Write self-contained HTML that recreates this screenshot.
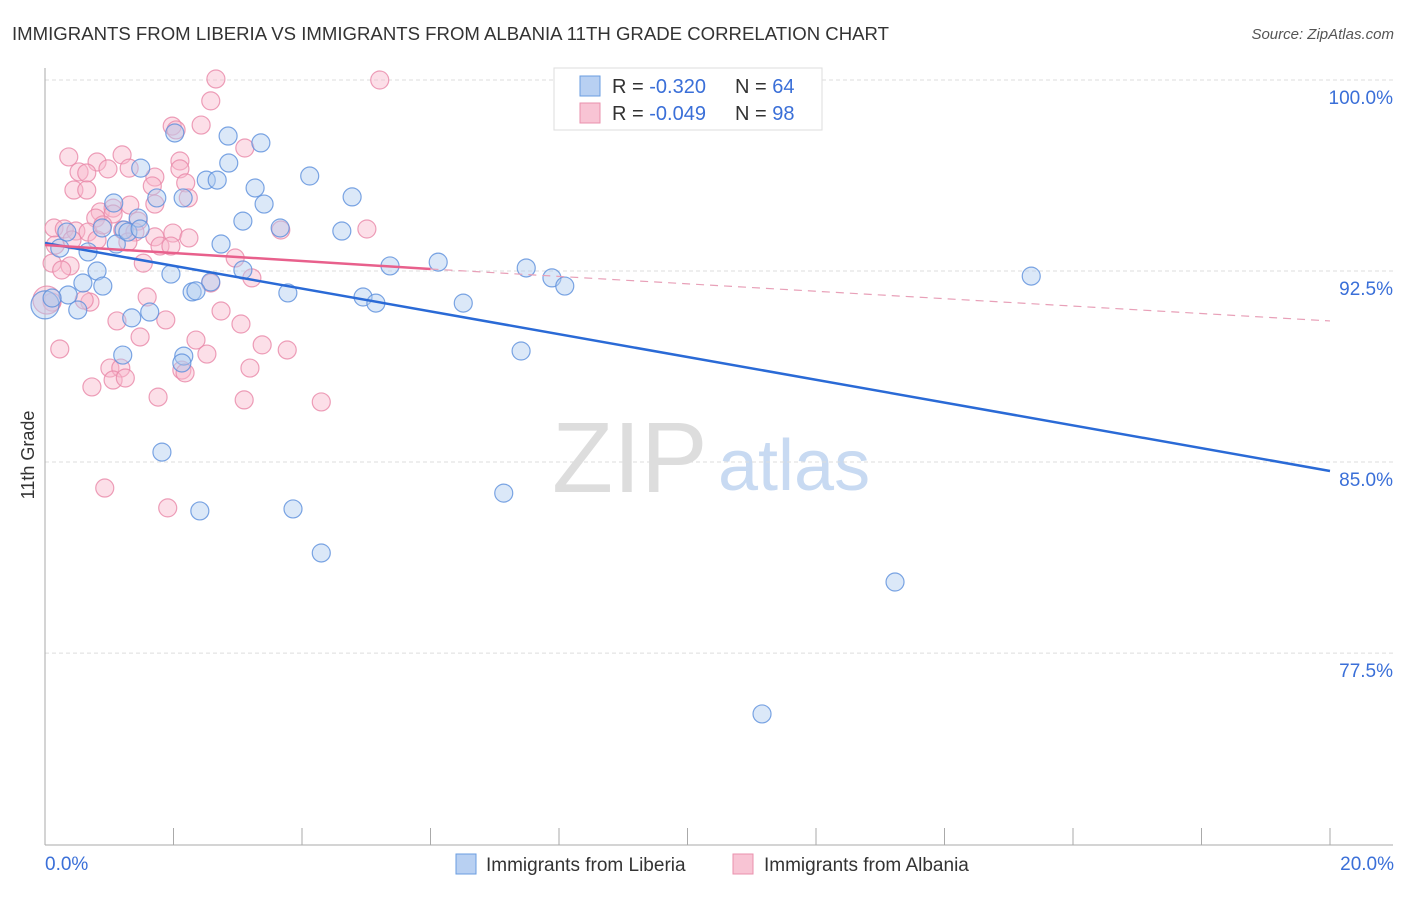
<!DOCTYPE html>
<html><head><meta charset="utf-8"><style>
body{margin:0;background:#fff;font-family:"Liberation Sans",sans-serif}
svg text{font-family:"Liberation Sans",sans-serif}
</style></head><body>
<svg id="c" width="1406" height="892">
<text x="12" y="40" font-size="18" fill="#333" textLength="877" lengthAdjust="spacingAndGlyphs">IMMIGRANTS FROM LIBERIA VS IMMIGRANTS FROM ALBANIA 11TH GRADE CORRELATION CHART</text>
<text x="1394" y="39" font-size="15" fill="#555" font-style="italic" text-anchor="end">Source: ZipAtlas.com</text>
<g>
<text x="552" y="492" font-size="100" fill="#ddd" font-family="Liberation Serif,serif">ZIP</text>
<text x="718" y="490" font-size="72" fill="#c8daf2">atlas</text>
</g>
<g id="grid"></g><g id="axes"></g><g id="pts"></g><g id="lines"></g>
<text transform="translate(34,455) rotate(-90)" font-size="18" fill="#333" text-anchor="middle">11th Grade</text>
<text x="45" y="870" font-size="19" fill="#3a6fd8">0.0%</text>
<text x="1394" y="870" font-size="19" fill="#3a6fd8" text-anchor="end">20.0%</text>
<g>
<rect x="554" y="68" width="268" height="62" fill="#fff" stroke="#ddd"/>
<rect x="580" y="76" width="20" height="20" fill="#b8d0f2" stroke="#6a9de0"/>
<rect x="580" y="103" width="20" height="20" fill="#f8c4d4" stroke="#ea90ad"/>
<text x="612" y="93" font-size="20" fill="#333">R = <tspan fill="#3a6fd8">-0.320</tspan></text>
<text x="735" y="93" font-size="20" fill="#333">N = <tspan fill="#3a6fd8">64</tspan></text>
<text x="612" y="120" font-size="20" fill="#333">R = <tspan fill="#3a6fd8">-0.049</tspan></text>
<text x="735" y="120" font-size="20" fill="#333">N = <tspan fill="#3a6fd8">98</tspan></text>
</g>
<g>
<rect x="456" y="854" width="20" height="20" fill="#b8d0f2" stroke="#6a9de0"/>
<text x="486" y="871" font-size="19" fill="#333">Immigrants from Liberia</text>
<rect x="733" y="854" width="20" height="20" fill="#f8c4d4" stroke="#ea90ad"/>
<text x="764" y="871" font-size="19" fill="#333">Immigrants from Albania</text>
</g>
</svg>
<script>
const yTicks=[100,92.5,85,77.5];
const yTickLabels=["100.0%","92.5%","85.0%","77.5%"];
const xTicks=[0,2,4,6,8,10,12,14,16,18,20];
const blueX=[2.02,2.85,3.36,1.49,2.86,2.51,2.68,4.12,3.27,4.78,1.74,2.15,1.07,3.41,1.45,3.08,3.66,4.62,1.23,0.89,0.23,0.67,1.11,2.74,1.29,6.12,5.37,7.49,7.89,8.09,15.35,3.08,0.81,1.96,2.58,0.59,0.90,2.29,2.35,3.78,4.95,5.15,6.51,0.36,0.51,1.63,1.35,1.21,2.16,2.13,7.41,1.82,7.14,2.41,3.86,4.30,13.23,11.16,9.82,0.0,0.11,1.48,0.34];
const blueY=[97.92,97.80,97.53,96.54,96.74,96.07,96.07,96.23,95.76,95.41,95.37,95.37,95.17,95.13,94.58,94.46,94.19,94.07,94.11,94.19,93.40,93.25,93.56,93.56,94.03,92.85,92.70,92.62,92.23,91.91,92.30,92.54,92.50,92.38,92.07,92.03,91.91,91.68,91.72,91.64,91.48,91.24,91.24,91.56,90.97,90.89,90.66,89.20,89.16,88.89,89.36,85.39,83.78,83.08,83.16,81.43,80.29,75.11,100.0,91.17,91.44,94.15,94.03];
const pinkX=[2.66,5.21,2.58,1.98,2.43,2.04,0.37,0.81,1.20,2.10,0.53,0.65,0.98,1.31,2.10,1.71,0.45,0.65,1.67,2.19,2.23,3.11,0.86,1.06,1.32,0.79,1.06,1.45,1.71,0.14,0.30,0.48,0.67,1.21,1.40,1.71,1.99,2.24,0.16,0.42,0.81,1.29,1.79,1.96,0.90,3.67,5.01,0.11,0.39,0.26,1.53,2.96,3.22,2.58,0.70,0.11,0.61,1.59,1.88,2.74,1.12,3.05,1.48,2.35,3.38,3.77,2.52,0.23,1.01,1.18,2.13,2.18,3.19,1.06,1.25,0.73,1.76,3.10,4.30,0.93,1.91,0.03];
const pinkY=[100.04,100.0,99.18,98.19,98.23,98.04,96.98,96.78,97.06,96.82,96.39,96.35,96.51,96.54,96.51,96.19,95.68,95.68,95.84,95.96,95.37,97.33,94.82,94.97,95.09,94.58,94.74,94.46,95.13,94.19,94.15,94.07,94.03,94.11,94.03,93.84,93.99,93.80,93.52,93.72,93.72,93.64,93.48,93.48,94.31,94.11,94.15,92.81,92.70,92.54,92.81,93.01,92.23,92.03,91.28,91.28,91.36,91.48,90.58,90.93,90.54,90.42,89.91,89.79,89.60,89.40,89.24,89.44,88.69,88.69,88.61,88.50,88.69,88.22,88.30,87.95,87.55,87.44,87.36,83.98,83.20,91.36];
const blueTrend=[[0,93.6],[20,84.65]];
const pinkTrend=[[0,93.52],[6,92.58],[20,90.54]];
const NS='http://www.w3.org/2000/svg';
const sx=v=>45+v*64.25, sy=v=>80+(100-v)*25.47;
function mk(t,a,p){const e=document.createElementNS(NS,t);for(const k in a)e.setAttribute(k,a[k]);p.appendChild(e);return e;}
const grid=document.getElementById('grid'),axes=document.getElementById('axes'),pts=document.getElementById('pts'),lines=document.getElementById('lines');
yTicks.forEach((t,i)=>{
 const l=mk('line',{x1:45,x2:1393,y1:sy(t),y2:sy(t),stroke:'#ddd','stroke-dasharray':'4,3'},grid);
 
 
 const tx=mk('text',{x:1393,y:sy(t)+24,'font-size':19,fill:'#3a6fd8','text-anchor':'end'},axes);
 tx.textContent=yTickLabels[i];
 
 
});
const ya=mk('line',{x1:45,x2:45,y1:68,y2:845,stroke:'#aaa'},axes);


const xa=mk('line',{x1:45,x2:1393,y1:845,y2:845,stroke:'#aaa'},axes);


xTicks.forEach(t=>{
 const l=mk('line',{x1:sx(t),x2:sx(t),y1:828,y2:845,stroke:'#aaa'},axes);
 
 
});
function dots(X,Y,fill,stroke,name){
 X.forEach((x,i)=>{
  const big=(x<0.05);
  const c=mk('circle',{cx:sx(x),cy:sy(Y[i]),r:big?14:9,fill:fill,'fill-opacity':0.45,stroke:stroke,'stroke-opacity':0.8,'stroke-width':1.2},pts);
  
  
 });
}
dots(pinkX,pinkY,'#f8b8cc','#e887a8','albania-point');
dots(blueX,blueY,'#b0cdf0','#5b8fdc','liberia-point');
const bl=mk('line',{x1:sx(blueTrend[0][0]),y1:sy(blueTrend[0][1]),x2:sx(blueTrend[1][0]),y2:sy(blueTrend[1][1]),stroke:'#2a6ad6','stroke-width':2.5},lines);


const pl=mk('line',{x1:sx(pinkTrend[0][0]),y1:sy(pinkTrend[0][1]),x2:sx(pinkTrend[1][0]),y2:sy(pinkTrend[1][1]),stroke:'#e8608c','stroke-width':2.5},lines);


const pd=mk('line',{x1:sx(pinkTrend[1][0]),y1:sy(pinkTrend[1][1]),x2:sx(pinkTrend[2][0]),y2:sy(pinkTrend[2][1]),stroke:'#e8a0b8','stroke-width':1.2,'stroke-dasharray':'8,6'},lines);


</script>
</body></html>
